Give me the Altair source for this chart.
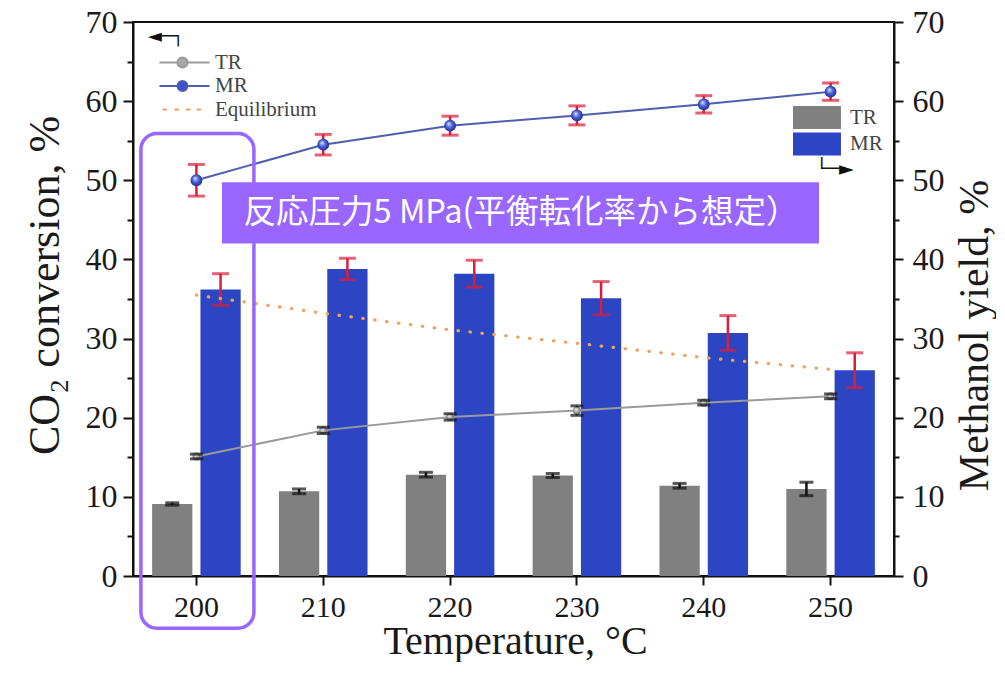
import altair as alt
import pandas as pd

# ---------------- data ----------------
temps = ["200", "210", "220", "230", "240", "250"]
bar_series = ["TR", "MR"]
line_series = ["TR", "MR", "Equilibrium"]

# CO2 conversion (left axis, lines)
tr_conv = [15.1, 18.4, 20.1, 20.9, 21.9, 22.7]
tr_conv_err = [0.3, 0.4, 0.4, 0.6, 0.3, 0.3]
mr_conv = [50.0, 54.5, 56.9, 58.2, 59.6, 61.2]
mr_conv_err = [2.0, 1.3, 1.2, 1.2, 1.1, 1.1]
eq_conv = [35.5, 33.2, 31.1, 29.4, 27.6, 26.1]

# Methanol yield (right axis, bars)
tr_yield = [9.1, 10.7, 12.8, 12.7, 11.4, 11.0]
tr_yield_err = [0.15, 0.3, 0.3, 0.25, 0.3, 0.85]
mr_yield = [36.2, 38.8, 38.2, 35.1, 30.7, 26.0]
mr_yield_err = [2.0, 1.35, 1.7, 2.1, 2.2, 2.2]

title_text = "メタノール合成試験の結果"
note_text = "反応圧力5 MPa(平衡転化率から想定）"


def build(vals, errs, name):
    return [
        {"temp": t, "series": name, "value": v, "lo": v - e, "hi": v + e}
        for t, v, e in zip(temps, vals, errs)
    ]


conv_df = pd.DataFrame(build(tr_conv, tr_conv_err, "TR") + build(mr_conv, mr_conv_err, "MR"))
yield_df = pd.DataFrame(build(tr_yield, tr_yield_err, "TR") + build(mr_yield, mr_yield_err, "MR"))
eq_df = pd.DataFrame({"temp": temps, "value": eq_conv})
leg_df = pd.DataFrame({"series": line_series})
box200_df = pd.DataFrame({"temp": ["200"], "y0": [-6.6], "y1": [55.9]})
note_df = pd.DataFrame({"temp": ["220"], "y0": [42.0], "y1": [49.75], "ym": [45.9], "text": [note_text]})

# ---------------- styles ----------------
FONT = "Liberation Serif"
GRAY = "#808080"
BLUE = "#2b45c3"
TR_LINE = "#9a9a9a"
MR_LINE = "#4e5fae"
EQ_COL = "#eea35e"
RED = "#d81e3c"
BLACK = "#111111"
PURPLE = "#9966ff"

blue_ball = alt.RadialGradient(
    gradient="radial",
    stops=[alt.GradientStop(offset=0, color="#e4eaff"),
           alt.GradientStop(offset=0.45, color="#4c64dc"),
           alt.GradientStop(offset=1, color="#14207a")],
    x1=0.38, y1=0.32, r1=0, x2=0.5, y2=0.5, r2=0.6)
gray_ball = alt.RadialGradient(
    gradient="radial",
    stops=[alt.GradientStop(offset=0, color="#f4f4f4"),
           alt.GradientStop(offset=0.5, color="#a8a8a8"),
           alt.GradientStop(offset=1, color="#555555")],
    x1=0.38, y1=0.32, r1=0, x2=0.5, y2=0.5, r2=0.6)

# ---------------- scales & axes ----------------
x_scale = alt.Scale(domain=temps, paddingInner=0, paddingOuter=0)
x_axis = alt.Axis(title="Temperature, °C", labelAngle=0, bandPosition=0.5, tickSize=9,
                  labelPadding=7, labelFontSize=30, titleFontSize=40, titleX=382, titleY=77,
                  titleBaseline="alphabetic", titleAlign="center", labelFlush=False)
X = alt.X("temp:N", scale=x_scale, axis=x_axis, sort=temps)
XO = alt.XOffset("series:N", sort=bar_series,
                 scale=alt.Scale(domain=bar_series, paddingInner=0.1667, paddingOuter=0.396))

ticks5 = list(range(0, 71, 5))
lbl_expr = "datum.value % 10 === 0 ? datum.label : ''"
left_axis = alt.Axis(orient="left", values=ticks5, labelExpr=lbl_expr, labelOverlap=False,
                     labelFlush=False,
                     tickSize={"condition": {"test": "datum.value % 10 !== 0", "value": 6}, "value": 10},
                     labelPadding=6, labelFontSize=32, title="CO₂ conversion, %", titleFontSize=44,
                     titleAngle=270, titleX=-88, titleY=263, titleAlign="center",
                     titleBaseline="middle")
right_axis = alt.Axis(orient="right", values=ticks5, labelExpr=lbl_expr, labelOverlap=False,
                      labelFlush=False,
                      tickSize={"condition": {"test": "datum.value % 10 !== 0", "value": 5}, "value": 9},
                      labelPadding=9, labelFontSize=32, title="Methanol yield, %", titleFontSize=42,
                      titleAngle=270, titleX=80, titleY=313, titleAlign="center",
                      titleBaseline="middle")
yl_scale = alt.Scale(domain=[0, 70], nice=False)
yr_scale = alt.Scale(domain=[0, 70], nice=False)


def YL(field):
    return alt.Y(f"{field}:Q", scale=yl_scale, axis=left_axis)


def YR(field):
    return alt.Y(f"{field}:Q", scale=yr_scale, axis=right_axis)


# ---------------- legends ----------------
P_LINE = ("M0.14,0H2.71M4.14,0H7.29M4.14,0A0.714,0.714,0,1,1,2.71,0"
          "A0.714,0.714,0,1,1,4.14,0Z")
P_DOTS = "M0.57,0H1.21M2.29,0H2.93M3.93,0H4.57M5.43,0H6.07"
P_RECT = "M-3.0,-1H1.17V1H-3.0Z"

line_legend = alt.Legend(orient="none", legendX=15, legendY=6, title="◄─┐",
                         titleFont="DejaVu Sans", titleFontSize=18, titleFontWeight="normal",
                         titleColor=BLACK, titlePadding=6, symbolSize=196, symbolStrokeWidth=2,
                         labelOffset=46, rowPadding=1.5, padding=0, labelFont=FONT,
                         labelFontSize=21, labelColor="#444444")
bar_legend = alt.Legend(orient="none", legendX=683, legendY=84, title="└─►", titleOrient="bottom",
                        titleFont="DejaVu Sans", titleFontSize=19, titleFontWeight="normal",
                        titleColor=BLACK, titlePadding=4, symbolType=P_RECT, symbolSize=529,
                        symbolStrokeWidth=0, labelOffset=11, rowPadding=3.5, padding=0,
                        labelFont=FONT, labelFontSize=21, labelColor="#444444")

# ---------------- right group: bars (methanol yield) ----------------
bars = alt.Chart(yield_df).mark_bar().encode(
    x=X, xOffset=XO, y=YR("value"),
    color=alt.Color("series:N", scale=alt.Scale(domain=bar_series, range=[GRAY, BLUE]),
                    legend=bar_legend))


def errbars(df, series, yfun, color, cap, width, offset):
    base = alt.Chart(df).transform_filter(alt.datum.series == series)
    enc = {"x": X}
    if offset:
        enc["xOffset"] = XO
    rule = base.mark_rule(color=color, strokeWidth=width).encode(
        y=yfun("lo"), y2=alt.Y2("hi:Q"), **enc)
    lo = base.mark_tick(color=color, size=cap, thickness=width + 0.5).encode(y=yfun("lo"), **enc)
    hi = base.mark_tick(color=color, size=cap, thickness=width + 0.5).encode(y=yfun("hi"), **enc)
    return [rule, lo, hi]


right_group = alt.layer(
    bars,
    *errbars(yield_df, "TR", YR, BLACK, 14, 2.5, True),
    *errbars(yield_df, "MR", YR, RED, 17, 2.5, True),
)

# ---------------- left group: lines (CO2 conversion) ----------------
tr_line = alt.Chart(conv_df).transform_filter(alt.datum.series == "TR").mark_line(
    color=TR_LINE, strokeWidth=2).encode(x=X, y=YL("value"))
mr_line = alt.Chart(conv_df).transform_filter(alt.datum.series == "MR").mark_line(
    color=MR_LINE, strokeWidth=2).encode(x=X, y=YL("value"))
eq_line = alt.Chart(eq_df).mark_line(color=EQ_COL, strokeWidth=3.2, strokeDash=[0.5, 11.5],
                                     strokeCap="round").encode(x=X, y=YL("value"))
tr_pts = alt.Chart(conv_df).transform_filter(alt.datum.series == "TR").mark_circle(
    size=60, opacity=1, color=gray_ball).encode(x=X, y=YL("value"))
mr_pts = alt.Chart(conv_df).transform_filter(alt.datum.series == "MR").mark_circle(
    size=140, opacity=1, color=blue_ball).encode(x=X, y=YL("value"))

tr_eb = errbars(conv_df, "TR", YL, BLACK, 13, 2.5, False)
mr_eb = errbars(conv_df, "MR", YL, RED, 17, 2.5, False)

legend_layer = alt.Chart(leg_df).transform_filter("false").mark_point(
    filled=True, strokeWidth=2, opacity=1).encode(
    shape=alt.Shape("series:N", scale=alt.Scale(domain=line_series, range=[P_LINE, P_LINE, P_DOTS]),
                    legend=line_legend),
    fill=alt.Fill("series:N", scale=alt.Scale(domain=line_series, range=["#a8a8a8", "#3a52cc", "#ffffff"]),
                  legend=line_legend),
    stroke=alt.Stroke("series:N", scale=alt.Scale(domain=line_series, range=[TR_LINE, MR_LINE, EQ_COL]),
                      legend=line_legend),
)

box200 = alt.Chart(box200_df).mark_rect(width=113, xOffset=1, cornerRadius=16, fillOpacity=0,
                                        stroke=PURPLE, strokeWidth=3.5).encode(
    x=X, y=YL("y0"), y2=alt.Y2("y1:Q"))
note_box = alt.Chart(note_df).mark_rect(width=597, xOffset=70.4, color=PURPLE, opacity=1).encode(
    x=X, y=YL("y0"), y2=alt.Y2("y1:Q"))
note_txt = alt.Chart(note_df).mark_text(dx=71, font="Noto Sans CJK JP", fontSize=32.5,
                                        color="white", baseline="middle", align="center").encode(
    x=X, y=YL("ym"), text="text:N")

left_group = alt.layer(
    tr_line, mr_line, eq_line,
    tr_eb[0], tr_pts, tr_eb[1], tr_eb[2],
    mr_eb[0], mr_pts, mr_eb[1], mr_eb[2],
    legend_layer, box200, note_box, note_txt,
)

chart = alt.layer(right_group, left_group).resolve_scale(y="independent").properties(
    width=761, height=554,
    padding={"left": 125, "top": 14, "right": 102, "bottom": 86},
    autosize=alt.AutoSizeParams(type="none"),
    title=alt.TitleParams(title_text, font="Noto Sans CJK JP", fontSize=36, fontWeight="normal",
                          anchor="start", dx=17, offset=12, baseline="bottom", color="#222222"),
).configure_view(stroke=BLACK, strokeWidth=2).configure_axis(
    labelFont=FONT, titleFont=FONT, labelColor="#1a1a1a", titleColor="#1a1a1a",
    titleFontWeight="normal", grid=False, domainColor=BLACK, tickColor=BLACK,
    domainWidth=2, tickWidth=2)

chart.save("out.html", embed_options={"renderer": "svg", "actions": False})
